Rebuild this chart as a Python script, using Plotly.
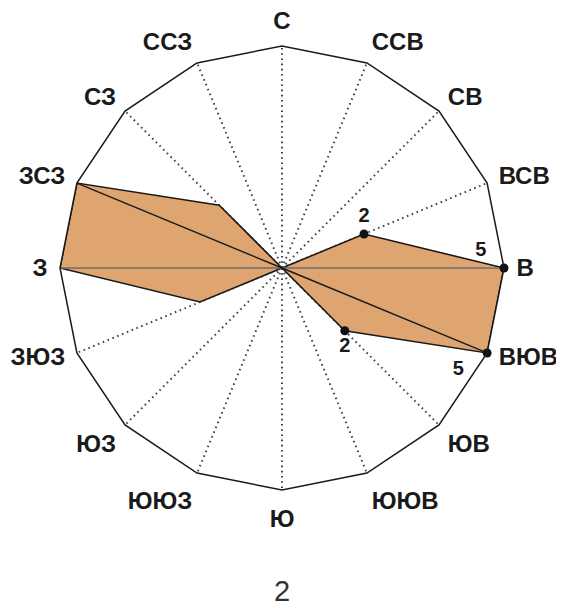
import plotly.graph_objects as go

directions = ['С', 'ССВ', 'СВ', 'ВСВ', 'В', 'ВЮВ', 'ЮВ', 'ЮЮВ',
              'Ю', 'ЮЮЗ', 'ЮЗ', 'ЗЮЗ', 'З', 'ЗСЗ', 'СЗ', 'ССЗ']
values = [0, 0, 0, 2, 5, 5, 2, 0, 0, 0, 0, 2, 5, 5, 2, 0]

marked = ['ВСВ', 'В', 'ВЮВ', 'ЮВ']
marked_pos = ['top center', 'top left', 'bottom left', 'bottom center']

diag_dirs = ['ЗСЗ', 'ВЮВ']      # dark diameter
axis_dirs = ['З', 'В']          # grey diameter
rmax = 5
caption = '2'

FONT = 'Liberation Sans, Arial, sans-serif'
val = dict(zip(directions, values))

lower = {'ВЮВ', 'ЮВ', 'ЮЮВ', 'ЮЮЗ', 'ЮЗ', 'ЗЮЗ'}
ticktext = [d + '<br> ' if d in lower else d for d in directions]

fig = go.Figure()

fig.add_trace(go.Scatterpolar(
    r=values + values[:1], theta=directions + directions[:1],
    mode='lines', fill='toself', fillcolor='#DFA571',
    line=dict(color='#1a1a1a', width=1.6), hoverinfo='skip'))

fig.add_trace(go.Scatterpolar(
    r=[val[axis_dirs[0]], 0, val[axis_dirs[1]]],
    theta=[axis_dirs[0], axis_dirs[0], axis_dirs[1]],
    mode='lines', line=dict(color='#6e6e6e', width=1.7), hoverinfo='skip'))

fig.add_trace(go.Scatterpolar(
    r=[val[diag_dirs[0]], 0, val[diag_dirs[1]]],
    theta=[diag_dirs[0], diag_dirs[0], diag_dirs[1]],
    mode='lines', line=dict(color='#1a1a1a', width=1.4), hoverinfo='skip'))

labels = [str(val[d]) for d in marked]
labels[1] = labels[1] + '  '
labels[2] = labels[2] + '   '
fig.add_trace(go.Scatterpolar(
    r=[val[d] for d in marked], theta=marked,
    mode='markers+text', text=labels,
    textposition=marked_pos,
    textfont=dict(family=FONT, size=20, color='#1a1a1a', weight='bold'),
    marker=dict(color='#111111', size=9), hoverinfo='skip'))

fig.update_layout(
    width=564, height=608,
    margin=dict(l=52, r=68, t=38, b=126),
    paper_bgcolor='white', plot_bgcolor='white',
    showlegend=False,
    polar=dict(
        bgcolor='white',
        gridshape='linear',
        domain=dict(x=[0, 1], y=[0, 1]),
        radialaxis=dict(range=[0, rmax], showgrid=False, showticklabels=False,
                        showline=False, ticks=''),
        angularaxis=dict(
            type='category', categoryorder='array', categoryarray=directions,
            tickmode='array', tickvals=directions, ticktext=ticktext,
            direction='clockwise', rotation=90,
            showline=True, linecolor='#1a1a1a', linewidth=1.5,
            showgrid=True, gridcolor='#444444', gridwidth=1.6, griddash='1.6px,3.6px',
            ticks='outside', ticklen=7, tickcolor='rgba(0,0,0,0)',
            tickfont=dict(family=FONT, size=24, color='#1a1a1a', weight='bold'),
        ),
    ),
    annotations=[dict(text=caption, xref='paper', yref='paper', x=0.5, y=-0.228,
                      yanchor='middle', showarrow=False,
                      font=dict(family=FONT, size=29, color='#333333'))],
)

fig.write_html('out.html')
